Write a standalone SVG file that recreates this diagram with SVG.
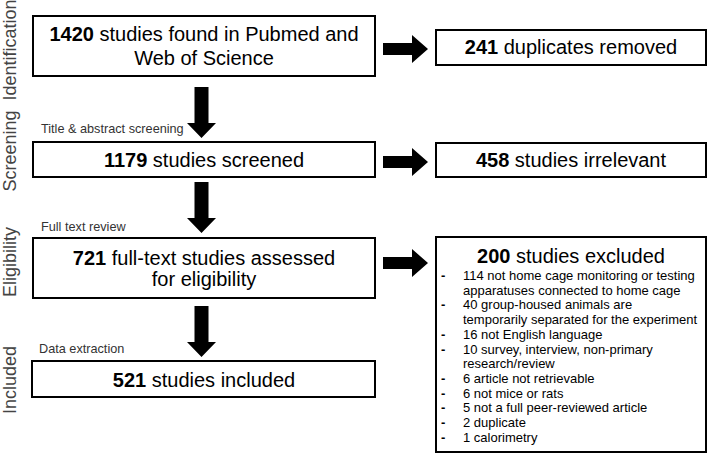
<svg xmlns="http://www.w3.org/2000/svg" xmlns:xlink="http://www.w3.org/1999/xlink" width="708" height="461" viewBox="0 0 708 461">
<style>
text{font-family:"Liberation Sans",Arial,Helvetica,sans-serif;}
.box{fill:#fff;stroke:#000;stroke-width:2;}
.main{font-size:20px;fill:#000;text-anchor:middle;}
.b{font-weight:bold;}
.stage{font-size:12.7px;fill:#333;}
.side{font-size:18px;fill:#444;text-anchor:middle;}
.item{font-size:13px;fill:#000;}
.dash{font-weight:bold;}
.arr{fill:#000;}
</style>
<defs>
<polygon id="rarrow" points="0,-6 29,-6 29,-14 45,0 29,14 29,6 0,6"/>
<polygon id="darrow" points="-7,0 7,0 7,36 14.5,36 0,51 -14.5,36 -7,36"/>
</defs>
<rect width="708" height="461" fill="#fff"/>

<g id="side-labels">
<text class="side" transform="translate(16,50) rotate(-90)">Identification</text>
<text class="side" transform="translate(16,151) rotate(-90)">Screening</text>
<text class="side" transform="translate(16,262) rotate(-90)">Eligibility</text>
<text class="side" transform="translate(16,380) rotate(-90)">Included</text>
</g>

<g id="stage-labels">
<text class="stage" x="41" y="133">Title &amp; abstract screening</text>
<text class="stage" x="41" y="231">Full text review</text>
<text class="stage" x="39" y="353">Data extraction</text>
</g>

<g id="connectors">
<use xlink:href="#rarrow" class="arr" x="383" y="49"/>
<use xlink:href="#rarrow" class="arr" x="383" y="162"/>
<use xlink:href="#rarrow" class="arr" x="383" y="263"/>
<use xlink:href="#darrow" class="arr" x="201.5" y="87"/>
<use xlink:href="#darrow" class="arr" x="201.5" y="182"/>
<use xlink:href="#darrow" class="arr" x="201.5" y="306"/>
</g>

<g id="node-identified">
<rect class="box" x="33" y="16" width="342" height="60"/>
<text class="main" x="204" y="41"><tspan class="b">1420</tspan> studies found in Pubmed and</text>
<text class="main" x="204" y="65">Web of Science</text>
</g>

<g id="node-duplicates">
<rect class="box" x="436" y="30" width="270" height="35"/>
<text class="main" x="571" y="54"><tspan class="b">241</tspan> duplicates removed</text>
</g>

<g id="node-screened">
<rect class="box" x="33" y="142" width="342" height="35"/>
<text class="main" x="204" y="167"><tspan class="b">1179</tspan> studies screened</text>
</g>

<g id="node-irrelevant">
<rect class="box" x="436" y="143" width="270" height="34"/>
<text class="main" x="571" y="167"><tspan class="b">458</tspan> studies irrelevant</text>
</g>

<g id="node-assessed">
<rect class="box" x="33" y="238" width="342" height="60"/>
<text class="main" x="204" y="265"><tspan class="b">721</tspan> full-text studies assessed</text>
<text class="main" x="204" y="286">for eligibility</text>
</g>

<g id="node-excluded">
<rect class="box" x="436" y="237" width="270" height="215"/>
<text class="main" x="571" y="263"><tspan class="b">200</tspan> studies excluded</text>
<g class="item">
<text class="dash" x="441" y="280">-</text><text x="463" y="280">114 not home cage monitoring or testing</text>
<text x="463" y="294.7">apparatuses connected to home cage</text>
<text class="dash" x="441" y="309.4">-</text><text x="463" y="309.4">40 group-housed animals are</text>
<text x="463" y="324.1">temporarily separated for the experiment</text>
<text class="dash" x="441" y="338.8">-</text><text x="463" y="338.8">16 not English language</text>
<text class="dash" x="441" y="353.5">-</text><text x="463" y="353.5">10 survey, interview, non-primary</text>
<text x="463" y="368.2">research/review</text>
<text class="dash" x="441" y="382.9">-</text><text x="463" y="382.9">6 article not retrievable</text>
<text class="dash" x="441" y="397.6">-</text><text x="463" y="397.6">6 not mice or rats</text>
<text class="dash" x="441" y="412.3">-</text><text x="463" y="412.3">5 not a full peer-reviewed article</text>
<text class="dash" x="441" y="427">-</text><text x="463" y="427">2 duplicate</text>
<text class="dash" x="441" y="441.7">-</text><text x="463" y="441.7">1 calorimetry</text>
</g>
</g>

<g id="node-included">
<rect class="box" x="32" y="361" width="343" height="36"/>
<text class="main" x="204" y="387"><tspan class="b">521</tspan> studies included</text>
</g>
</svg>
